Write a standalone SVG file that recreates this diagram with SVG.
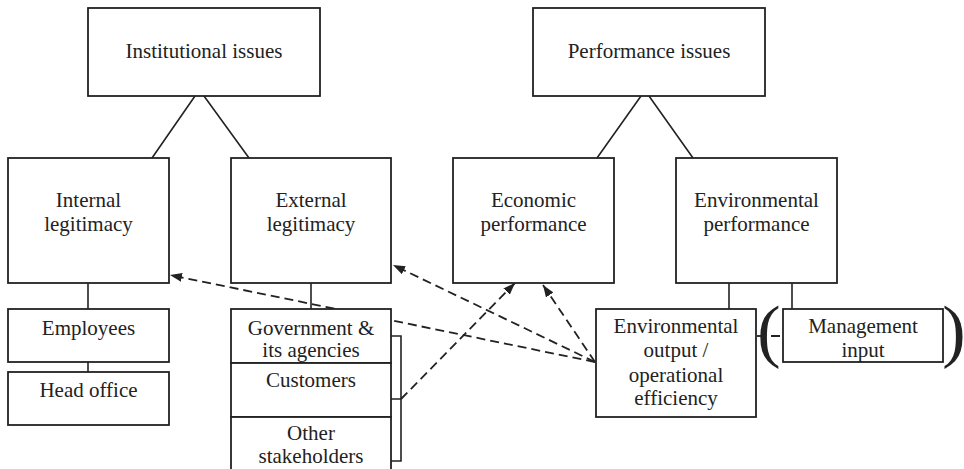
<svg xmlns="http://www.w3.org/2000/svg" width="964" height="469" viewBox="0 0 964 469">
<style>
.box{fill:#fff;stroke:#222;stroke-width:1.8}
.ln{fill:none;stroke:#222;stroke-width:1.6}
.dash{fill:none;stroke:#222;stroke-width:1.8;stroke-dasharray:9 5}
text{font-family:"Liberation Serif","Times New Roman",serif;font-size:21px;fill:#222;text-anchor:middle}
.paren{font-size:70px}
</style>
<defs>
<marker id="ah" markerUnits="userSpaceOnUse" markerWidth="13" markerHeight="10" refX="12" refY="4.5" orient="auto">
<path d="M0,0 L12,4.5 L0,9 z" fill="#222"/>
</marker>
</defs>
<rect width="964" height="469" fill="#fff"/>
<g id="connectors">
<path class="ln" d="M195,96 L152,158 M204,96 L249,158"/>
<path class="ln" d="M641,96 L597,158 M649,96 L693,158"/>
<path class="ln" d="M88,283 V309 M88,362 V372"/>
<path class="ln" d="M311,283 V309"/>
<path class="ln" d="M729,283 V309 M792,283 V309"/>
<path class="ln" d="M391,336 H401 V461 H391 M391,399 H401"/>
<path class="dash" d="M595,362 L170,275" marker-end="url(#ah)"/>
<path class="dash" d="M595,362 L393,265" marker-end="url(#ah)"/>
<path class="dash" d="M595,362 L543,285" marker-end="url(#ah)"/>
<path class="dash" d="M401,399 L515,283" marker-end="url(#ah)"/>
<path class="dash" d="M757,336 H783"/>
</g>
<g id="institutional">
<rect class="box" x="88" y="8" width="232" height="88"/>
<text x="204" y="58">Institutional issues</text>
</g>
<g id="performance">
<rect class="box" x="533" y="8" width="232" height="88"/>
<text x="649" y="58">Performance issues</text>
</g>
<g id="internal">
<rect class="box" x="8" y="158" width="161" height="125"/>
<text x="88.5" y="207">Internal</text>
<text x="88.5" y="231">legitimacy</text>
</g>
<g id="external">
<rect class="box" x="231" y="158" width="160" height="125"/>
<text x="311" y="207">External</text>
<text x="311" y="231">legitimacy</text>
</g>
<g id="economic">
<rect class="box" x="453" y="158" width="161" height="125"/>
<text x="533.5" y="207">Economic</text>
<text x="533.5" y="231">performance</text>
</g>
<g id="environmental">
<rect class="box" x="676" y="158" width="161" height="125"/>
<text x="756.5" y="207">Environmental</text>
<text x="756.5" y="231">performance</text>
</g>
<g id="employees">
<rect class="box" x="8" y="309" width="161" height="53"/>
<text x="88.5" y="335">Employees</text>
</g>
<g id="headoffice">
<rect class="box" x="8" y="372" width="161" height="53"/>
<text x="88.5" y="397">Head office</text>
</g>
<g id="government">
<rect class="box" x="231" y="309" width="160" height="54"/>
<text x="311" y="335">Government &amp;</text>
<text x="311" y="357">its agencies</text>
</g>
<g id="customers">
<rect class="box" x="231" y="363" width="160" height="54"/>
<text x="311" y="387">Customers</text>
</g>
<g id="others">
<rect class="box" x="231" y="417" width="160" height="60"/>
<text x="311" y="440">Other</text>
<text x="311" y="463">stakeholders</text>
</g>
<g id="envoutput">
<rect class="box" x="596" y="309" width="160" height="108"/>
<text x="676" y="333">Environmental</text>
<text x="676" y="357">output /</text>
<text x="676" y="382">operational</text>
<text x="676" y="405">efficiency</text>
</g>
<g id="management">
<text class="paren" x="769" y="354">(</text>
<rect class="box" x="783" y="309" width="160" height="53"/>
<text x="863" y="333">Management</text>
<text x="863" y="357">input</text>
<text class="paren" x="954" y="354">)</text>
</g>
</svg>
